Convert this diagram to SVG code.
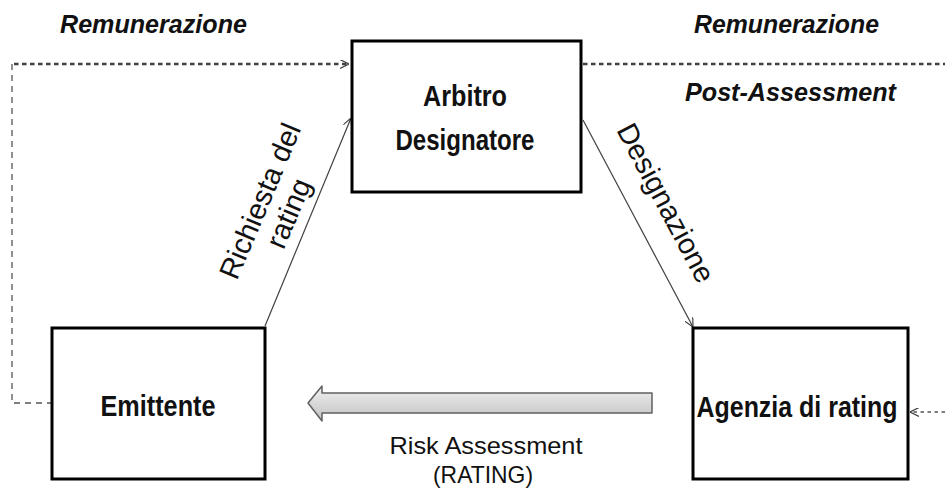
<svg xmlns="http://www.w3.org/2000/svg" width="945" height="499" viewBox="0 0 945 499">
<defs>
<style>
.box{fill:#fff;stroke:#000;stroke-width:3}
.nt{font-family:"Liberation Sans Narrow","Liberation Sans",Arial,sans-serif;font-weight:bold;font-size:29px;fill:#111;text-anchor:middle}
.it{font-family:"Liberation Sans",Arial,sans-serif;font-weight:bold;font-style:italic;font-size:25px;fill:#111}
.rt{font-family:"Liberation Sans",Arial,sans-serif;font-size:29px;fill:#111;text-anchor:middle}
.lab{font-family:"Liberation Sans",Arial,sans-serif;font-size:24px;fill:#111;text-anchor:middle}
.ln{fill:none;stroke:#404040;stroke-width:1.2}
.dot{fill:none;stroke:#404040;stroke-width:2.5;stroke-dasharray:4.5 3.5}
.dash{fill:none;stroke:#555;stroke-width:1.3;stroke-dasharray:6 5}
.dash2{fill:none;stroke:#555;stroke-width:1.5;stroke-dasharray:3.5 3.5}
</style>
<marker id="open" viewBox="0 0 10 10" refX="10" refY="5" markerWidth="9" markerHeight="9" markerUnits="userSpaceOnUse" orient="auto">
<path d="M0,0 L10,5 L0,10" fill="none" stroke="#404040" stroke-width="1.3"/>
</marker>
<linearGradient id="grad" x1="0" y1="0" x2="0" y2="1">
<stop offset="0" stop-color="#f2f2f2"/>
<stop offset="0.5" stop-color="#d8d8d8"/>
<stop offset="1" stop-color="#c4c4c4"/>
</linearGradient>
</defs>

<g id="connectors">
<path class="dot" d="M14,64 H349" marker-end="url(#open)"/>
<path class="dash" d="M12,64 V403 H52"/>
<path class="dot" d="M583,64 H945"/>
<path class="dash2" d="M945,412 H910" marker-end="url(#open)"/>
<path class="ln" d="M265,326 L351,118" marker-end="url(#open)"/>
<path class="ln" d="M583,120 L693,327" marker-end="url(#open)"/>
<path d="M308,403 L322,386 V393 H652 V413 H322 V421 Z" fill="url(#grad)" stroke="#606060" stroke-width="1.5" stroke-linejoin="round"/>
</g>

<g id="arbitro">
<rect class="box" x="352" y="41" width="229" height="151"/>
<text class="nt" x="465" y="106" textLength="84" lengthAdjust="spacingAndGlyphs">Arbitro</text>
<text class="nt" x="465" y="150" textLength="139" lengthAdjust="spacingAndGlyphs">Designatore</text>
</g>

<g id="emittente">
<rect class="box" x="52" y="328" width="213" height="151"/>
<text class="nt" x="158" y="416" textLength="115" lengthAdjust="spacingAndGlyphs">Emittente</text>
</g>

<g id="agenzia">
<rect class="box" x="693" y="328" width="215" height="151"/>
<text class="nt" x="797" y="417" textLength="201" lengthAdjust="spacingAndGlyphs">Agenzia di rating</text>
</g>

<g id="labels">
<text class="it" x="60" y="33" textLength="187" lengthAdjust="spacingAndGlyphs">Remunerazione</text>
<text class="it" x="694" y="33" textLength="185" lengthAdjust="spacingAndGlyphs">Remunerazione</text>
<text class="it" x="685" y="101" textLength="211" lengthAdjust="spacingAndGlyphs">Post-Assessment</text>
<g transform="translate(260,201) rotate(-67)">
<text class="rt" x="0" y="10">Richiesta del</text>
<text class="rt" x="0" y="41">rating</text>
</g>
<g transform="translate(666,203) rotate(62)">
<text class="rt" x="0" y="10">Designazione</text>
</g>
<text class="lab" x="486" y="454" textLength="193" lengthAdjust="spacingAndGlyphs">Risk Assessment</text>
<text class="lab" x="483" y="483" textLength="100" lengthAdjust="spacingAndGlyphs">(RATING)</text>
</g>
</svg>
